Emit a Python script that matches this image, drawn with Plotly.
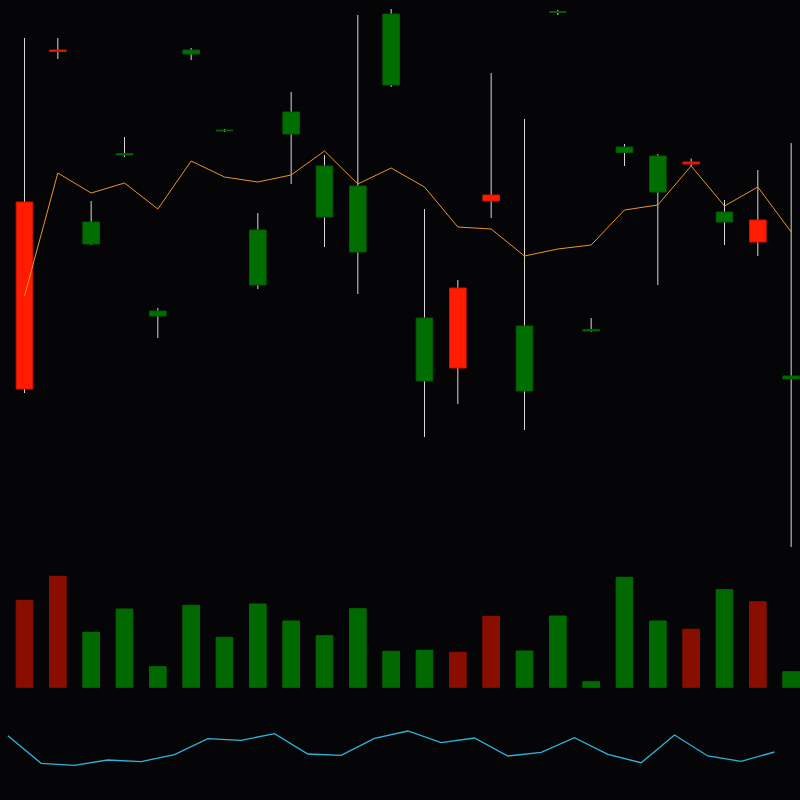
import plotly.graph_objects as go

# ---- data ----
idx = list(range(24))
opens  = [34.32, 40.40, 32.64, 36.20, 29.76, 40.24, 37.16, 31.00, 37.04, 33.72, 32.32, 39.00,
          27.16, 30.88, 34.60, 26.76, 41.90, 29.16, 36.30, 34.72, 35.92, 33.52, 33.60, 27.24]
highs  = [40.88, 40.88, 34.36, 36.92, 30.08, 40.48, 37.24, 33.88, 38.72, 36.20, 41.80, 42.04,
          34.04, 31.20, 39.48, 37.64, 42.00, 29.68, 36.64, 36.24, 36.06, 34.40, 35.60, 36.68]
lows   = [26.68, 40.04, 32.60, 36.12, 28.88, 40.00, 37.12, 30.84, 35.04, 32.52, 30.64, 38.92,
          24.92, 26.24, 33.68, 25.20, 41.80, 29.12, 35.76, 31.00, 35.76, 32.60, 32.16, 20.52]
closes = [26.84, 40.34, 33.52, 36.26, 29.96, 40.40, 37.20, 33.20, 37.92, 35.76, 34.96, 41.84,
          29.68, 27.68, 34.36, 29.36, 41.94, 29.22, 36.52, 36.16, 35.84, 33.92, 32.72, 27.36]
ma     = [30.56, 35.48, 34.68, 35.08, 34.04, 35.96, 35.32, 35.12, 35.40, 36.36, 35.04, 35.68,
          34.92, 33.32, 33.24, 32.16, 32.44, 32.60, 34.00, 34.20, 35.76, 34.16, 34.92, 33.12]
volume = [874, 1114, 554, 787, 210, 824, 504, 837, 667, 520, 790, 364,
          374, 354, 714, 367, 717, 60, 1104, 667, 584, 980, 860, 160]
indicator = [64.3, 36.7, 34.7, 40.0, 38.3, 45.3, 61.3, 59.7, 66.3, 46.0, 44.7, 61.7,
             69.0, 57.3, 62.0, 44.0, 47.7, 62.3, 45.7, 37.3, 65.0, 44.0, 38.7, 48.0]

UP, DOWN = "#006e00", "#ff1c00"
UP_EDGE, DOWN_EDGE = "#005a00", "#d01400"
VUP, VDOWN = "#006a00", "#8a0e00"
BG = "#050507"

up = [c >= o for o, c in zip(opens, closes)]
body_base = [min(o, c) for o, c in zip(opens, closes)]
body_h = [max(abs(c - o), 0.03) for o, c in zip(opens, closes)]
body_col = [UP if u else DOWN for u in up]
body_edge = [UP_EDGE if u else DOWN_EDGE for u in up]
vol_col = [VUP if u else VDOWN for u in up]

wx, wy = [], []
for i, h, l in zip(idx, highs, lows):
    wx += [i, i, None]
    wy += [l, h, None]

PRICE_RANGE = [20, 42.4]

fig = go.Figure()
# wicks on the base price axis (drawn underneath)
fig.add_trace(go.Scatter(x=wx, y=wy, mode="lines", line=dict(color="#d8d8d8", width=1),
                         hoverinfo="skip", yaxis="y"))
# bodies and moving average on an overlaying price axis (drawn on top)
fig.add_trace(go.Bar(x=idx, y=body_h, base=body_base, width=0.5,
                     marker=dict(color=body_col, line=dict(color=body_edge, width=1)),
                     yaxis="y4"))
fig.add_trace(go.Scatter(x=idx, y=ma, mode="lines", line=dict(color="#e8952a", width=1),
                         yaxis="y4"))
fig.add_trace(go.Bar(x=idx, y=volume, width=0.5,
                     marker=dict(color=vol_col, line=dict(color=vol_col, width=1)),
                     yaxis="y2"))
fig.add_trace(go.Scatter(x=[i - 0.5 for i in idx], y=indicator, mode="lines",
                         line=dict(color="#2fb4d8", width=1.3), yaxis="y3"))

hidden = dict(visible=False, showgrid=False, zeroline=False, fixedrange=True)
fig.update_layout(
    width=800, height=800,
    margin=dict(l=0, r=0, t=0, b=0),
    paper_bgcolor=BG, plot_bgcolor=BG,
    showlegend=False, barmode="overlay",
    xaxis=dict(range=[-0.735, 23.265], **hidden),
    yaxis=dict(domain=[0.3, 1.0], range=PRICE_RANGE, **hidden),
    yaxis4=dict(overlaying="y", range=PRICE_RANGE, **hidden),
    yaxis2=dict(domain=[0.14038, 0.3], range=[0, 1277], **hidden),
    yaxis3=dict(domain=[0.0, 0.14], range=[0, 112], **hidden),
)
fig.write_html(
    "out.html",
    config={"displayModeBar": False},
    post_script="document.body.style.margin='0';document.body.style.background='#050507';",
)
